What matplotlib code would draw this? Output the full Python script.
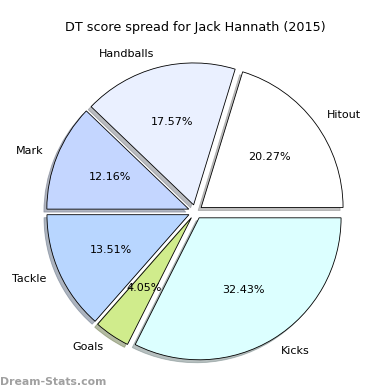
import matplotlib
matplotlib.use('Agg')
import matplotlib.pyplot as plt

# DT score breakdown
labels = ['Hitout', 'Handballs', 'Mark', 'Tackle', 'Goals', 'Kicks']
points = [15, 13, 9, 10, 3, 24]
colors = ['#ffffff', '#eaf0ff', '#c4d6ff', '#b8d6ff', '#d0ec8c', '#dcffff']
explode = [0.05] * 6

fig = plt.figure(figsize=(3.9, 3.9), dpi=100)
ax = fig.add_axes([0.046, 0.002, 0.91, 0.91])
ax.pie(points, labels=labels, colors=colors, explode=explode, autopct='%.2f%%',
       shadow={'ox': -0.015, 'oy': -0.015, 'shade': 0.5}, startangle=0, counterclock=True,
       wedgeprops={'edgecolor': 'black', 'linewidth': 0.6},
       textprops={'fontsize': 8})
ax.set_aspect('equal')
fig.text(0.5, 0.92, 'DT score spread for Jack Hannath (2015)', ha='center', fontsize=9.2)
fig.text(0.0, 0.012, 'Dream-Stats.com', ha='left', fontsize=7.8, color='#888888',
         fontweight='bold', alpha=0.8)

fig.savefig('out.png', dpi=100)
